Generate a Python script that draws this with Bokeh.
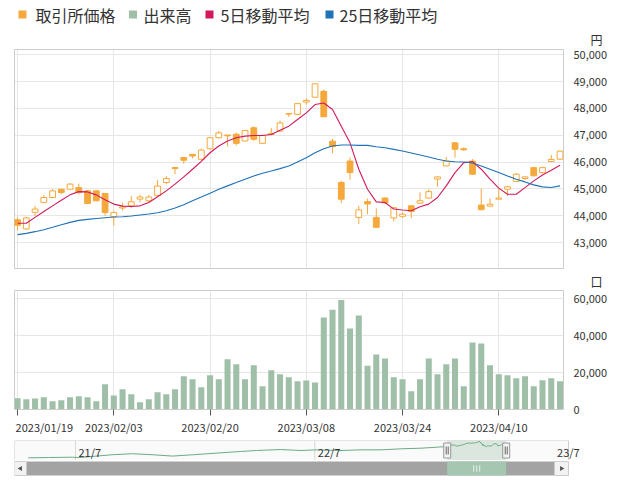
import pandas as pd
from bokeh.plotting import figure
from bokeh.layouts import column
from bokeh.models import ColumnDataSource, Range1d, FixedTicker, NumeralTickFormatter, Grid
from bokeh.embed import file_html
from bokeh.resources import INLINE
from bokeh.core.properties import value

# ---------------- data ----------------
dates = ["2023/01/19", "2023/01/20", "2023/01/23", "2023/01/24", "2023/01/25", "2023/01/26", "2023/01/27",
         "2023/01/30", "2023/01/31", "2023/02/01", "2023/02/02", "2023/02/03", "2023/02/06", "2023/02/07",
         "2023/02/08", "2023/02/09", "2023/02/10", "2023/02/13", "2023/02/14", "2023/02/15", "2023/02/16",
         "2023/02/17", "2023/02/20", "2023/02/21", "2023/02/22", "2023/02/24", "2023/02/27", "2023/02/28",
         "2023/03/01", "2023/03/02", "2023/03/03", "2023/03/06", "2023/03/07", "2023/03/08", "2023/03/09",
         "2023/03/10", "2023/03/13", "2023/03/14", "2023/03/15", "2023/03/16", "2023/03/17", "2023/03/20",
         "2023/03/22", "2023/03/23", "2023/03/24", "2023/03/27", "2023/03/28", "2023/03/29", "2023/03/30",
         "2023/03/31", "2023/04/03", "2023/04/04", "2023/04/05", "2023/04/06", "2023/04/07", "2023/04/10",
         "2023/04/11", "2023/04/12", "2023/04/13", "2023/04/14", "2023/04/17", "2023/04/18", "2023/04/19"]

open_ = [43850, 43510, 44130, 44500, 44680, 44990, 44990, 45050, 44930, 44930,
         44830, 43970, 44290, 44370, 44620, 44560, 44750, 45240, 45800, 46170,
         46290, 46105, 46500, 46910, 47010, 47040, 46790, 47280, 46700, 47030,
         47160, 47790, 47780, 48240, 48420, 48640, 46780, 45240, 46040, 43940,
         44530, 43940, 44660, 43920, 43980, 44370, 44470, 44660, 45370, 45860,
         46720, 46500, 46040, 44400, 44360, 44620, 44990, 45280, 45390, 45795,
         45610, 46020, 46110]
high = [43950, 43950, 44370, 44780, 44990, 45000, 45220, 45200, 44960, 44950,
        44850, 44190, 44490, 44740, 44780, 44780, 45330, 45490, 45810, 46180,
        46300, 46500, 46930, 47160, 47020, 47100, 47200, 47330, 47020, 47280,
        47550, 47820, 48200, 48370, 48930, 48700, 46870, 45300, 46170, 44370,
        44640, 44270, 44700, 44330, 44130, 44400, 44870, 44990, 45470, 46190,
        46740, 46550, 46110, 45010, 44640, 44990, 45120, 45590, 45470, 45820,
        45830, 46265, 46430]
low = [43450, 43480, 44000, 44480, 44650, 44800, 44960, 44790, 44440, 44540,
       44000, 43630, 44190, 44290, 44500, 44500, 44740, 45180, 45550, 45940,
       46140, 46090, 46480, 46880, 46580, 46620, 46770, 46790, 46690, 47000,
       47140, 47680, 47770, 48150, 48400, 47680, 46330, 44470, 45340, 43690,
       44060, 43550, 44430, 43790, 43920, 43910, 44450, 44640, 45080, 45840,
       46165, 46420, 45530, 44190, 44340, 44610, 44740, 45260, 45340, 45470,
       45580, 46000, 46090]
close = [43650, 43920, 44250, 44680, 44930, 44870, 45180, 44870, 44460, 44560,
         44120, 44120, 44330, 44520, 44700, 44700, 45110, 45390, 45760, 46070,
         46230, 46450, 46910, 47090, 46980, 46700, 47180, 46850, 47000, 47070,
         47460, 47810, 48180, 48300, 48920, 47690, 46580, 44620, 45610, 44220,
         44440, 43570, 44480, 44300, 44060, 44160, 44560, 44900, 45450, 46040,
         46480, 46460, 45550, 44230, 44430, 44660, 45080, 45550, 45450, 45490,
         45795, 46100, 46410]

ma5 = [43720, 43720, 43940, 44160, 44370, 44580, 44780, 44900, 44890, 44780,
       44595, 44435, 44360, 44347, 44370, 44495, 44707, 44930, 45180, 45450,
       45735, 46030, 46350, 46600, 46785, 46906, 46970, 46995, 46995, 47030,
       47190, 47340, 47590, 47835, 48145, 48205, 47960, 47340, 46720, 45735,
       44990, 44520, 44495, 44250, 44213, 44190, 44335, 44435, 44680, 45115,
       45610, 45980, 46016, 45735, 45365, 45030, 44805, 44805, 45050, 45300,
       45523, 45700, 45880]
ma25 = [43297, 43345, 43408, 43482, 43570, 43668, 43755, 43830, 43866, 43900,
        43928, 43953, 43965, 43990, 44028, 44065, 44113, 44190, 44290, 44410,
        44560, 44700, 44843, 44990, 45115, 45237, 45363, 45485, 45585, 45670,
        45757, 45857, 46005, 46165, 46350, 46500, 46600, 46636, 46636, 46625,
        46625, 46575, 46535, 46476, 46413, 46340, 46265, 46190, 46105, 46040,
        46016, 46005, 45968, 45857, 45735, 45610, 45485, 45365, 45263, 45152,
        45078, 45052, 45115]

volume = [6100, 5570, 5950, 6670, 4500, 5050, 6670, 7200, 6670, 4500,
          13700, 7570, 10990, 8290, 3960, 5570, 9370, 8290, 10990, 18020,
          16400, 12070, 18560, 16400, 27200, 24500, 16400, 23950, 12620, 21250,
          19100, 17460, 15300, 15760, 14680, 49900, 54050, 59450, 43950, 50970,
          23780, 29900, 27730, 17460, 16400, 9900, 16400, 27730, 19100, 24500,
          27730, 12620, 36400, 35850, 23950, 19100, 18560, 16920, 18020, 12620,
          15840, 16920, 15300]

price_ticks = [43000, 44000, 45000, 46000, 47000, 48000, 49000, 50000]
volume_ticks = [0, 20000, 40000, 60000]
date_tick_idx = [0, 11, 22, 33, 44, 55]

legend_labels = ["取引所価格", "出来高", "5日移動平均", "25日移動平均"]
price_unit = "円"
volume_unit = "口"

# navigator: earlier history of the price
nav_hist_dates = ["2021-04-20", "2021-05-21", "2021-06-26", "2021-07-06", "2021-08-02", "2021-08-26",
                  "2021-09-26", "2021-10-27", "2021-11-26", "2021-12-27", "2022-02-01", "2022-03-10",
                  "2022-04-03", "2022-05-10", "2022-06-10", "2022-07-04", "2022-08-10", "2022-09-09",
                  "2022-10-10", "2022-11-10", "2022-12-10", "2023-01-04", "2023-01-18"]
nav_hist_vals = [32600, 32900, 33200, 32800, 34300, 35600, 36600, 35600, 34300, 35600, 37200, 38800,
                 39750, 40700, 39750, 40400, 39750, 40400, 40400, 41400, 42000, 43000, 43700]
nav_tick_dates = ["2021-07-01", "2022-07-01", "2023-07-01"]
nav_tick_labels = ["21/7", "22/7", "23/7"]

# ---------------- style ----------------
FONT = "Noto Sans CJK JP"
ORANGE = "#f5a83b"
GREEN = "#9fbfa9"
CRIMSON = "#d3185c"
BLUE = "#1f71b8"
GRID = "#e6e6e6"
FRAME = "#cccccc"
TEXT = "#333333"
W = 623
BL, BR = 14, 60          # frame from x=14 to x=563


def fig(**kw):
    return figure(output_backend="svg", toolbar_location=None, **kw)


def plain(p):
    p.xgrid.visible = False
    p.ygrid.visible = False
    p.outline_line_color = None
    return p


# ---------------- legend strip ----------------
LG_H = 27
lg = plain(fig(width=W, height=LG_H, x_range=Range1d(BL, W - BR), y_range=Range1d(LG_H, 0),
               x_axis_location=None, y_axis_location=None,
               min_border_left=BL, min_border_right=BR, min_border_top=0, min_border_bottom=0))
legend_colors = [ORANGE, GREEN, CRIMSON, BLUE]
sw_x = [22, 132.5, 209, 329]
tx_x = [35, 143, 220, 339]
lg.rect(x=sw_x, y=[14] * 4, width=8, height=8, fill_color=legend_colors, line_color=None)
lg.text(x=tx_x, y=[14] * 4, text=legend_labels, text_baseline="middle", text_align="left",
        text_font=value(FONT), text_font_size=value("16px"), text_color=TEXT)


def unit_title(p, txt, standoff):
    p.title.text = txt
    p.title.align = "right"
    p.title.offset = -39
    p.title.standoff = standoff
    p.title.text_font = FONT
    p.title.text_font_size = "12px"
    p.title.text_font_style = "normal"
    p.title.text_color = TEXT


def right_axis(ax, ticks):
    ax.ticker = FixedTicker(ticks=ticks)
    ax.formatter = NumeralTickFormatter(format="0,0")
    ax.axis_line_color = None
    ax.major_tick_line_color = None
    ax.minor_tick_line_color = None
    ax.major_label_standoff = 4
    ax.major_label_text_font = FONT
    ax.major_label_text_font_size = "11px"
    ax.major_label_text_color = TEXT


# ---------------- price chart ----------------
idx = list(range(len(dates)))
xr = Range1d(-0.35, len(dates) - 1 + 0.4)
PP_TOP = 48 - LG_H
pp = fig(width=W, height=PP_TOP + 220 + 1, x_range=xr, y_range=Range1d(42035, 50198),
         x_axis_location=None, y_axis_location="right", title=" ", title_location="above",
         min_border_left=BL, min_border_right=BR, min_border_top=PP_TOP, min_border_bottom=1)
unit_title(pp, price_unit, 3)
pp.outline_line_color = FRAME
pp.xgrid.visible = False
pp.add_layout(Grid(dimension=0, ticker=FixedTicker(ticks=date_tick_idx), grid_line_color=GRID))
pp.ygrid.grid_line_color = GRID
right_axis(pp.yaxis[0], price_ticks)

src = ColumnDataSource(dict(
    x=idx, high=high, low=low,
    top=[max(o, c) for o, c in zip(open_, close)],
    bottom=[min(o, c) for o, c in zip(open_, close)],
    fill=["white" if c >= o else ORANGE for o, c in zip(open_, close)],
))
pp.segment(x0="x", y0="high", x1="x", y1="low", source=src, line_color=ORANGE, line_width=1)
pp.vbar(x="x", width=0.66, top="top", bottom="bottom", fill_color="fill", line_color=ORANGE,
        line_width=1, source=src)
pp.line(idx, ma5, line_color=CRIMSON, line_width=1.1)
pp.line(idx, ma25, line_color=BLUE, line_width=1.1)

# ---------------- volume chart ----------------
VP_BOTTOM = 9
vp = fig(width=W, height=20 + 120 + VP_BOTTOM, x_range=xr, y_range=Range1d(0, 64560),
         x_axis_location="below", y_axis_location="right", title=" ", title_location="above",
         min_border_left=BL, min_border_right=BR, min_border_top=20, min_border_bottom=VP_BOTTOM)
unit_title(vp, volume_unit, 2)
vp.outline_line_color = FRAME
vp.vbar(x=idx, top=volume, width=0.69, fill_color=GREEN, line_color=None)
vp.xgrid.grid_line_color = GRID
vp.ygrid.grid_line_color = GRID
right_axis(vp.yaxis[0], volume_ticks)
xa = vp.xaxis[0]
xa.ticker = FixedTicker(ticks=date_tick_idx)
xa.major_label_overrides = {i: "" for i in date_tick_idx}
xa.major_label_text_font_size = "1px"
xa.major_label_standoff = 0
xa.axis_line_color = FRAME
xa.major_tick_out = 6
xa.major_tick_in = 0
xa.major_tick_line_color = "#555555"
xa.minor_tick_line_color = None

# ---------------- date labels strip (under the volume chart) ----------------
ST_H = 440 - (48 + 220 + 1 + 20 + 120 + VP_BOTTOM) + 0
st = plain(fig(width=W, height=22, x_range=xr, y_range=Range1d(22, 0),
               x_axis_location=None, y_axis_location=None,
               min_border_left=BL, min_border_right=BR, min_border_top=0, min_border_bottom=0))
st.text(x=date_tick_idx[:1], y=[8], text=[dates[date_tick_idx[0]]], x_offset=-2,
        text_align="left", text_baseline="middle", text_font=value(FONT),
        text_font_size=value("11px"), text_color=TEXT)
st.text(x=date_tick_idx[1:], y=[8] * (len(date_tick_idx) - 1), text=[dates[i] for i in date_tick_idx[1:]],
        text_align="center", text_baseline="middle", text_font=value(FONT),
        text_font_size=value("11px"), text_color=TEXT)

# ---------------- navigator ----------------
dts = pd.to_datetime(dates, format="%Y/%m/%d")
nav_start = pd.Timestamp("2021-03-30")
box_end = pd.Timestamp("2023-07-23")
BOX_W = 554
NBR = 23
NAV_FRAME_W = W - BL - NBR
ms_per_px = (box_end - nav_start) / BOX_W
nav_end = nav_start + NAV_FRAME_W * ms_per_px
nav_x = list(pd.to_datetime(nav_hist_dates)) + list(dts)
nav_y = nav_hist_vals + close
ny0, ny1 = 30000, 49500

nv = plain(fig(width=W, height=20, x_range=Range1d(nav_start, nav_end), y_range=Range1d(ny0, ny1),
               x_axis_type="datetime", x_axis_location=None, y_axis_location=None,
               min_border_left=BL, min_border_right=NBR, min_border_top=0, min_border_bottom=0))
nv.quad(left=[nav_start], right=[box_end], bottom=[ny0], top=[ny1], fill_color="#fafafa",
        line_color=FRAME, line_width=1)
nav_ticks_dt = pd.to_datetime(nav_tick_dates)
nv.segment(x0=list(nav_ticks_dt[:-1]), y0=[ny0] * 2, x1=list(nav_ticks_dt[:-1]), y1=[ny1] * 2,
           line_color="#d8d8d8", line_width=1)
nv.quad(left=[dts[0]], right=[dts[-1]], bottom=[ny0], top=[ny1], fill_color=GREEN, fill_alpha=0.35,
        line_color=None)
nv.line(nav_x, nav_y, line_color="#6aab86", line_width=1)
nv.text(x=list(nav_ticks_dt), y=[ny0 + 0.45 * (ny1 - ny0)] * 3, text=nav_tick_labels, x_offset=3,
        text_baseline="middle", text_align="left", text_font=value(FONT),
        text_font_size=value("11px"), text_color=TEXT)
hx = [dts[0], dts[-1]]
hy = [(ny0 + ny1) / 2] * 2
nv.rect(x=hx, y=hy, width=7, height=15, width_units="screen", height_units="screen",
        fill_color="#f2f2f2", line_color="#999999")
g0 = [h + d * ms_per_px for h in hx for d in (-1, 1)]
nv.segment(x0=g0, y0=[ny0 + 0.3 * (ny1 - ny0)] * 4, x1=g0, y1=[ny0 + 0.7 * (ny1 - ny0)] * 4,
           line_color="#666666", line_width=1)

# ---------------- scrollbar ----------------
sb = plain(fig(width=W, height=16, x_range=nv.x_range, y_range=Range1d(0, 1),
               x_axis_location=None, y_axis_location=None,
               min_border_left=BL, min_border_right=NBR, min_border_top=0, min_border_bottom=0))
btn_l = nav_start + 12 * ms_per_px
btn_r = box_end - 14 * ms_per_px
sb.quad(left=[btn_l], right=[btn_r], bottom=[0.06], top=[0.94], fill_color="#a3a3a3", line_color=None)
sb.quad(left=[nav_start, btn_r], right=[btn_l, box_end], bottom=[0.06, 0.06], top=[0.94, 0.94],
        fill_color="#f2f2f2", line_color=FRAME)
sb.quad(left=[dts[0]], right=[dts[-1]], bottom=[0.06], top=[0.94], fill_color="#a5c6b0", line_color=None)
mid_t = dts[0] + (dts[-1] - dts[0]) / 2
gx = [mid_t + k * 3 * ms_per_px for k in (-1, 0, 1)]
sb.segment(x0=gx, y0=[0.3] * 3, x1=gx, y1=[0.7] * 3, line_color="#e8f1eb", line_width=1)
sb.scatter(x=[nav_start + 6 * ms_per_px], y=[0.5], marker="triangle", size=5, angle=1.5708,
           fill_color="#555555", line_color=None)
sb.scatter(x=[box_end - 7 * ms_per_px], y=[0.5], marker="triangle", size=5, angle=-1.5708,
           fill_color="#555555", line_color=None)

top_part = column(lg, pp, vp, st)
nav_part = column(nv, sb)
open("out.html", "w").write(file_html([top_part, nav_part], INLINE))
